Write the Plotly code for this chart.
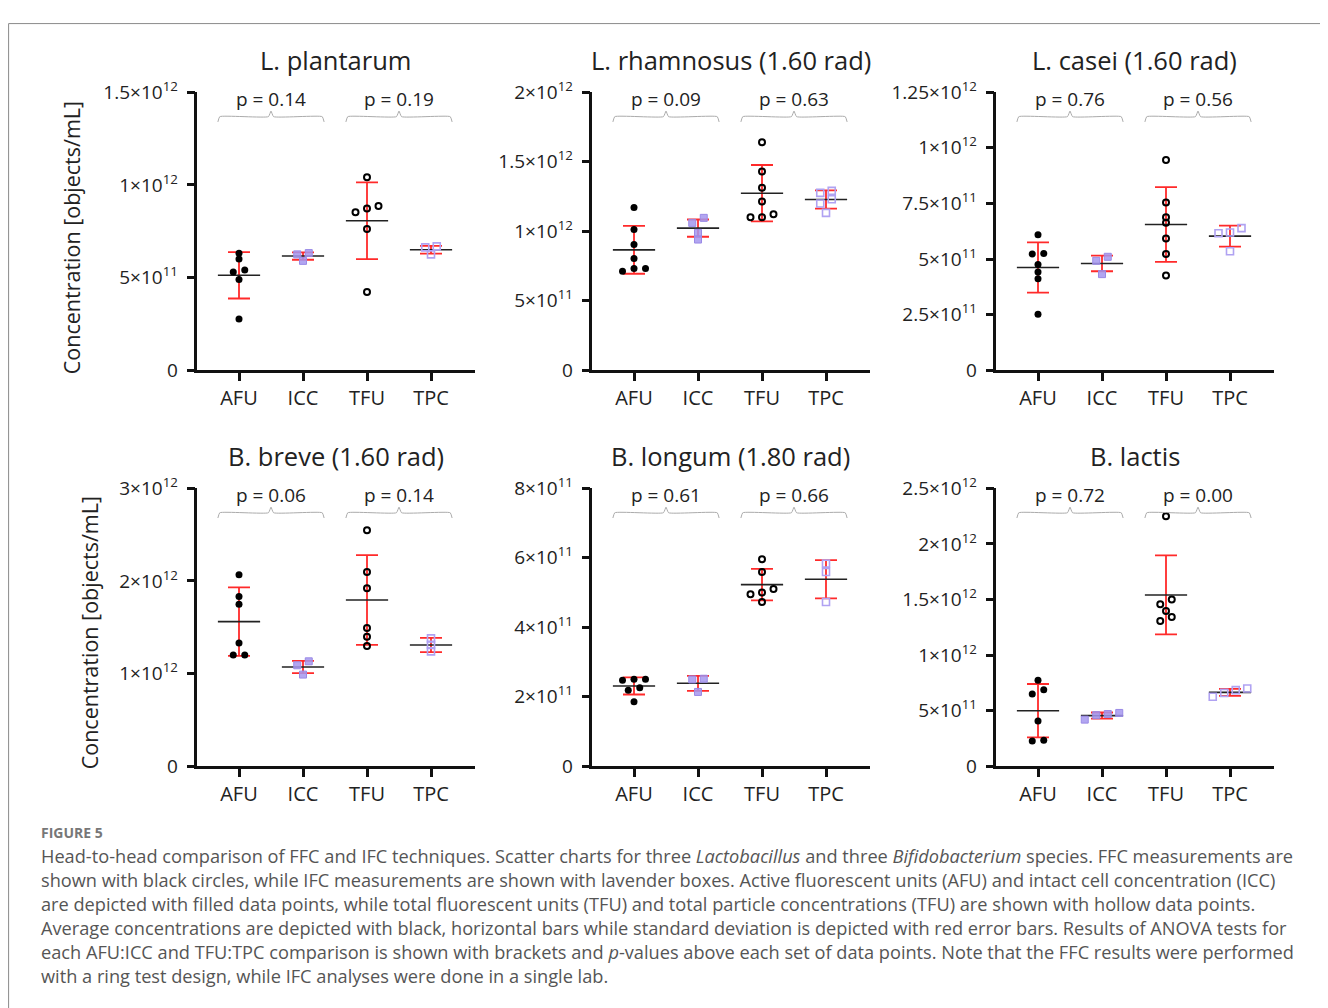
import plotly.graph_objects as go

W, H = 1328, 1008

CATEGORIES = ["AFU", "ICC", "TFU", "TPC"]
TITLES = ["L. plantarum", "L. rhamnosus (1.60 rad)", "L. casei (1.60 rad)",
          "B. breve (1.60 rad)", "B. longum (1.80 rad)", "B. lactis"]

# ---- data (objects/mL) ----
plantarum_afu = [0.631e12, 0.600e12, 0.541e12, 0.530e12, 0.490e12, 0.276e12]
plantarum_icc = [0.632e12, 0.625e12, 0.590e12]
plantarum_tfu = [1.041e12, 0.886e12, 0.872e12, 0.852e12, 0.762e12, 0.422e12]
plantarum_tpc = [0.668e12, 0.663e12, 0.625e12]
plantarum_mean = [0.512e12, 0.616e12, 0.806e12, 0.650e12]
plantarum_sd = [0.125e12, 0.020e12, 0.207e12, 0.021e12]

rhamnosus_afu = [1.170e12, 1.012e12, 0.904e12, 0.803e12, 0.731e12, 0.731e12, 0.712e12]
rhamnosus_icc = [1.096e12, 1.060e12, 0.988e12, 0.940e12]
rhamnosus_tfu = [1.640e12, 1.429e12, 1.312e12, 1.213e12, 1.122e12, 1.101e12, 1.101e12]
rhamnosus_tpc = [1.290e12, 1.276e12, 1.230e12, 1.199e12, 1.132e12]
rhamnosus_mean = [0.866e12, 1.022e12, 1.273e12, 1.228e12]
rhamnosus_sd = [0.172e12, 0.062e12, 0.203e12, 0.065e12]

casei_afu = [0.609e12, 0.525e12, 0.523e12, 0.475e12, 0.442e12, 0.411e12, 0.252e12]
casei_icc = [0.510e12, 0.492e12, 0.432e12]
casei_tfu = [0.945e12, 0.754e12, 0.688e12, 0.663e12, 0.592e12, 0.523e12, 0.426e12]
casei_tpc = [0.639e12, 0.619e12, 0.616e12, 0.535e12]
casei_mean = [0.462e12, 0.480e12, 0.655e12, 0.603e12]
casei_sd = [0.113e12, 0.035e12, 0.168e12, 0.047e12]

breve_afu = [2.068e12, 1.831e12, 1.748e12, 1.331e12, 1.201e12, 1.201e12]
breve_icc = [1.133e12, 1.090e12, 0.990e12]
breve_tfu = [2.547e12, 2.097e12, 1.921e12, 1.493e12, 1.399e12, 1.299e12]
breve_tpc = [1.380e12, 1.310e12, 1.240e12]
breve_mean = [1.561e12, 1.072e12, 1.795e12, 1.309e12]
breve_sd = [0.370e12, 0.066e12, 0.484e12, 0.077e12]

longum_afu = [2.504e11, 2.504e11, 2.475e11, 2.264e11, 2.187e11, 1.861e11]
longum_icc = [2.520e11, 2.500e11, 2.140e11]
longum_tfu = [5.957e11, 5.592e11, 5.103e11, 4.998e11, 4.950e11, 4.729e11]
longum_tpc = [5.832e11, 5.592e11, 4.729e11]
longum_mean = [2.312e11, 2.388e11, 5.228e11, 5.381e11]
longum_sd = [0.245e11, 0.215e11, 0.455e11, 0.550e11]

lactis_afu = [0.773e12, 0.689e12, 0.650e12, 0.408e12, 0.234e12, 0.228e12]
lactis_icc = [0.480e12, 0.470e12, 0.460e12, 0.420e12]
lactis_tfu = [2.248e12, 1.499e12, 1.457e12, 1.397e12, 1.343e12, 1.307e12]
lactis_tpc = [0.700e12, 0.685e12, 0.660e12, 0.625e12]
lactis_mean = [0.500e12, 0.456e12, 1.541e12, 0.665e12]
lactis_sd = [0.240e12, 0.028e12, 0.355e12, 0.032e12]

P_VALUES = [["0.14", "0.19"], ["0.09", "0.63"], ["0.76", "0.56"],
            ["0.06", "0.14"], ["0.61", "0.66"], ["0.72", "0.00"]]

Y_MAX = [1.5e12, 2e12, 1.25e12, 3e12, 8e11, 2.5e12]
Y_TICKS = [
    [0, 5e11, 1e12, 1.5e12],
    [0, 5e11, 1e12, 1.5e12, 2e12],
    [0, 2.5e11, 5e11, 7.5e11, 1e12, 1.25e12],
    [0, 1e12, 2e12, 3e12],
    [0, 2e11, 4e11, 6e11, 8e11],
    [0, 5e11, 1e12, 1.5e12, 2e12, 2.5e12],
]
Y_TICK_TEXT = [
    ["0", "5×10<sup>11</sup>", "1×10<sup>12</sup>", "1.5×10<sup>12</sup>"],
    ["0", "5×10<sup>11</sup>", "1×10<sup>12</sup>", "1.5×10<sup>12</sup>", "2×10<sup>12</sup>"],
    ["0", "2.5×10<sup>11</sup>", "5×10<sup>11</sup>", "7.5×10<sup>11</sup>", "1×10<sup>12</sup>", "1.25×10<sup>12</sup>"],
    ["0", "1×10<sup>12</sup>", "2×10<sup>12</sup>", "3×10<sup>12</sup>"],
    ["0", "2×10<sup>11</sup>", "4×10<sup>11</sup>", "6×10<sup>11</sup>", "8×10<sup>11</sup>"],
    ["0", "5×10<sup>11</sup>", "1×10<sup>12</sup>", "1.5×10<sup>12</sup>", "2×10<sup>12</sup>", "2.5×10<sup>12</sup>"],
]

PANELS = [
    ([plantarum_afu, plantarum_icc, plantarum_tfu, plantarum_tpc], plantarum_mean, plantarum_sd),
    ([rhamnosus_afu, rhamnosus_icc, rhamnosus_tfu, rhamnosus_tpc], rhamnosus_mean, rhamnosus_sd),
    ([casei_afu, casei_icc, casei_tfu, casei_tpc], casei_mean, casei_sd),
    ([breve_afu, breve_icc, breve_tfu, breve_tpc], breve_mean, breve_sd),
    ([longum_afu, longum_icc, longum_tfu, longum_tpc], longum_mean, longum_sd),
    ([lactis_afu, lactis_icc, lactis_tfu, lactis_tpc], lactis_mean, lactis_sd),
]

CAPTION = [
    "Head-to-head comparison of FFC and IFC techniques. Scatter charts for three <i>Lactobacillus</i> and three <i>Bifidobacterium</i> species. FFC measurements are",
    "shown with black circles, while IFC measurements are shown with lavender boxes. Active fluorescent units (AFU) and intact cell concentration (ICC)",
    "are depicted with filled data points, while total fluorescent units (TFU) and total particle concentrations (TFU) are shown with hollow data points.",
    "Average concentrations are depicted with black, horizontal bars while standard deviation is depicted with red error bars. Results of ANOVA tests for",
    "each AFU:ICC and TFU:TPC comparison is shown with brackets and <i>p</i>-values above each set of data points. Note that the FFC results were performed",
    "with a ring test design, while IFC analyses were done in a single lab.",
]

# ---- layout geometry ----
# The page is photographed with an offset / vertical squeeze; convert target
# screen pixels into figure pixels.
SHIFT_X, SHIFT_Y, SQUEEZE_Y = 7.0, 23.5, 0.972


def fx(px):
    return (px - SHIFT_X) / W


def fy(py):
    return 1 - (py / SQUEEZE_Y - SHIFT_Y) / H


FONT = "Open Sans"
X_RANGE = [-0.65, 3.68]
CAT_PX = 64.0
PLOT_H = 278.0
COL_AFU_PX = [238, 633, 1037]
ROW_TOP_PX = [92, 488]

MARKERS = [
    dict(symbol="circle", color="#000000", size=7),
    dict(symbol="square", color="rgba(165,150,238,0.85)", size=7, line=dict(color="#9a8ae6", width=1)),
    dict(symbol="circle-open", color="#000000", size=6, line=dict(width=2)),
    dict(symbol="square-open", color="#b0a2f2", size=7, line=dict(width=1.6)),
]


def swarm_offsets(vals, ymax, thresh_px=5.5, step_px=11.5):
    px = [v / ymax * PLOT_H for v in vals]
    order = sorted(range(len(vals)), key=lambda i: px[i])
    clusters = []
    for i in order:
        if clusters and px[i] - px[clusters[-1][-1]] < thresh_px:
            clusters[-1].append(i)
        else:
            clusters.append([i])
    offs = [0.0] * len(vals)
    for c in clusters:
        n = len(c)
        for k, i in enumerate(c):
            offs[i] = (k - (n - 1) / 2) * step_px / CAT_PX
    return offs


fig = go.Figure()
layout = dict(
    width=W, height=H, margin=dict(l=0, r=0, t=0, b=0),
    paper_bgcolor="white", plot_bgcolor="rgba(0,0,0,0)",
    showlegend=False, font=dict(family=FONT, color="#222"),
)
annotations = []

for p, (groups, means, sds) in enumerate(PANELS):
    r, c = divmod(p, 3)
    n = p + 1
    xa = "x" if n == 1 else f"x{n}"
    ya = "y" if n == 1 else f"y{n}"
    ymax = Y_MAX[p]

    x0 = COL_AFU_PX[c] + X_RANGE[0] * CAT_PX
    x1 = COL_AFU_PX[c] + X_RANGE[1] * CAT_PX
    ytop = ROW_TOP_PX[r]
    ybot = ytop + PLOT_H

    layout["xaxis" if n == 1 else f"xaxis{n}"] = dict(
        domain=[fx(x0), fx(x1)], anchor=ya, range=X_RANGE,
        tickvals=[0, 1, 2, 3], ticktext=CATEGORIES,
        showline=True, linecolor="#111", linewidth=2.5,
        ticks="outside", ticklen=8, tickwidth=2.5, tickcolor="#111",
        showgrid=False, zeroline=False, tickfont=dict(size=20, color="#222"),
    )
    layout["yaxis" if n == 1 else f"yaxis{n}"] = dict(
        domain=[fy(ybot), fy(ytop)], anchor=xa, range=[0, ymax],
        tickvals=Y_TICKS[p], ticktext=Y_TICK_TEXT[p],
        showline=True, linecolor="#111", linewidth=2.5,
        ticks="outside", ticklen=8, tickwidth=2.5, tickcolor="#111",
        ticklabelstandoff=5,
        showgrid=False, zeroline=False, tickfont=dict(size=19, color="#222"),
    )

    # mean bars + SD error bars
    for g in range(4):
        fig.add_trace(go.Scatter(
            x=[g], y=[means[g]], xaxis=xa, yaxis=ya, mode="markers",
            marker=dict(size=1, color="rgba(0,0,0,0)"), hoverinfo="skip",
            error_y=dict(type="data", array=[sds[g]], color="#ff2a2a", thickness=1.8, width=11),
            error_x=dict(type="constant", value=0.33, color="#222", thickness=1.6, width=0),
        ))
    # points
    for g in range(4):
        vals = groups[g]
        offs = swarm_offsets(vals, ymax)
        fig.add_trace(go.Scatter(
            x=[g + o for o in offs], y=vals, xaxis=xa, yaxis=ya, mode="markers",
            marker=MARKERS[g], cliponaxis=False,
        ))

    # brackets and p-values
    for k in range(2):
        a = 2 * k - 0.33
        b = 2 * k + 1 + 0.33
        mid = 2 * k + 0.5
        yb, yh, yp = 0.912 * ymax, 0.893 * ymax, 0.932 * ymax
        fig.add_trace(go.Scatter(
            x=[a, a + 0.03, mid - 0.04, mid, mid + 0.04, b - 0.03, b],
            y=[yh, yb, yb, yp, yb, yb, yh],
            xaxis=xa, yaxis=ya, mode="lines",
            line=dict(color="#ababab", width=1, shape="spline", smoothing=0.4),
            hoverinfo="skip", cliponaxis=False,
        ))
        annotations.append(dict(
            x=mid, y=0.975 * ymax, xref=xa, yref=ya, text=f"p = {P_VALUES[p][k]}",
            showarrow=False, font=dict(size=19, color="#222"), xanchor="center", yanchor="middle",
        ))

    # panel title
    annotations.append(dict(
        x=(fx(x0) + fx(x1)) / 2, y=fy(ytop - 32), xref="paper", yref="paper",
        text=TITLES[p], showarrow=False, font=dict(size=25.5, color="#222"),
        xanchor="center", yanchor="middle",
    ))

# y-axis titles
for cx, cy in [(70, 238), (88, 633)]:
    annotations.append(dict(
        x=fx(cx), y=fy(cy), xref="paper", yref="paper", text="Concentration [objects/mL]",
        textangle=-90, showarrow=False, font=dict(size=21.5, color="#222"),
        xanchor="center", yanchor="middle",
    ))

# caption
annotations.append(dict(
    x=fx(38), y=fy(832), xref="paper", yref="paper", text="<b>FIGURE 5</b>",
    showarrow=False, font=dict(size=14, color="#777"), xanchor="left", yanchor="middle",
))
for i, line in enumerate(CAPTION):
    annotations.append(dict(
        x=fx(38), y=fy(856 + 24 * i), xref="paper", yref="paper", text=line,
        showarrow=False, font=dict(size=18.2, color="#555"), xanchor="left", yanchor="middle",
    ))

layout["annotations"] = annotations
layout["shapes"] = [dict(
    type="rect", xref="paper", yref="paper",
    x0=max(fx(5), 0.6 / W), x1=fx(1324), y0=-0.05, y1=min(fy(11), 1 - 0.6 / H),
    line=dict(color="#8a8a8a", width=1), fillcolor="rgba(0,0,0,0)", layer="below",
)]

fig.update_layout(**layout)
fig.write_html("out.html")
